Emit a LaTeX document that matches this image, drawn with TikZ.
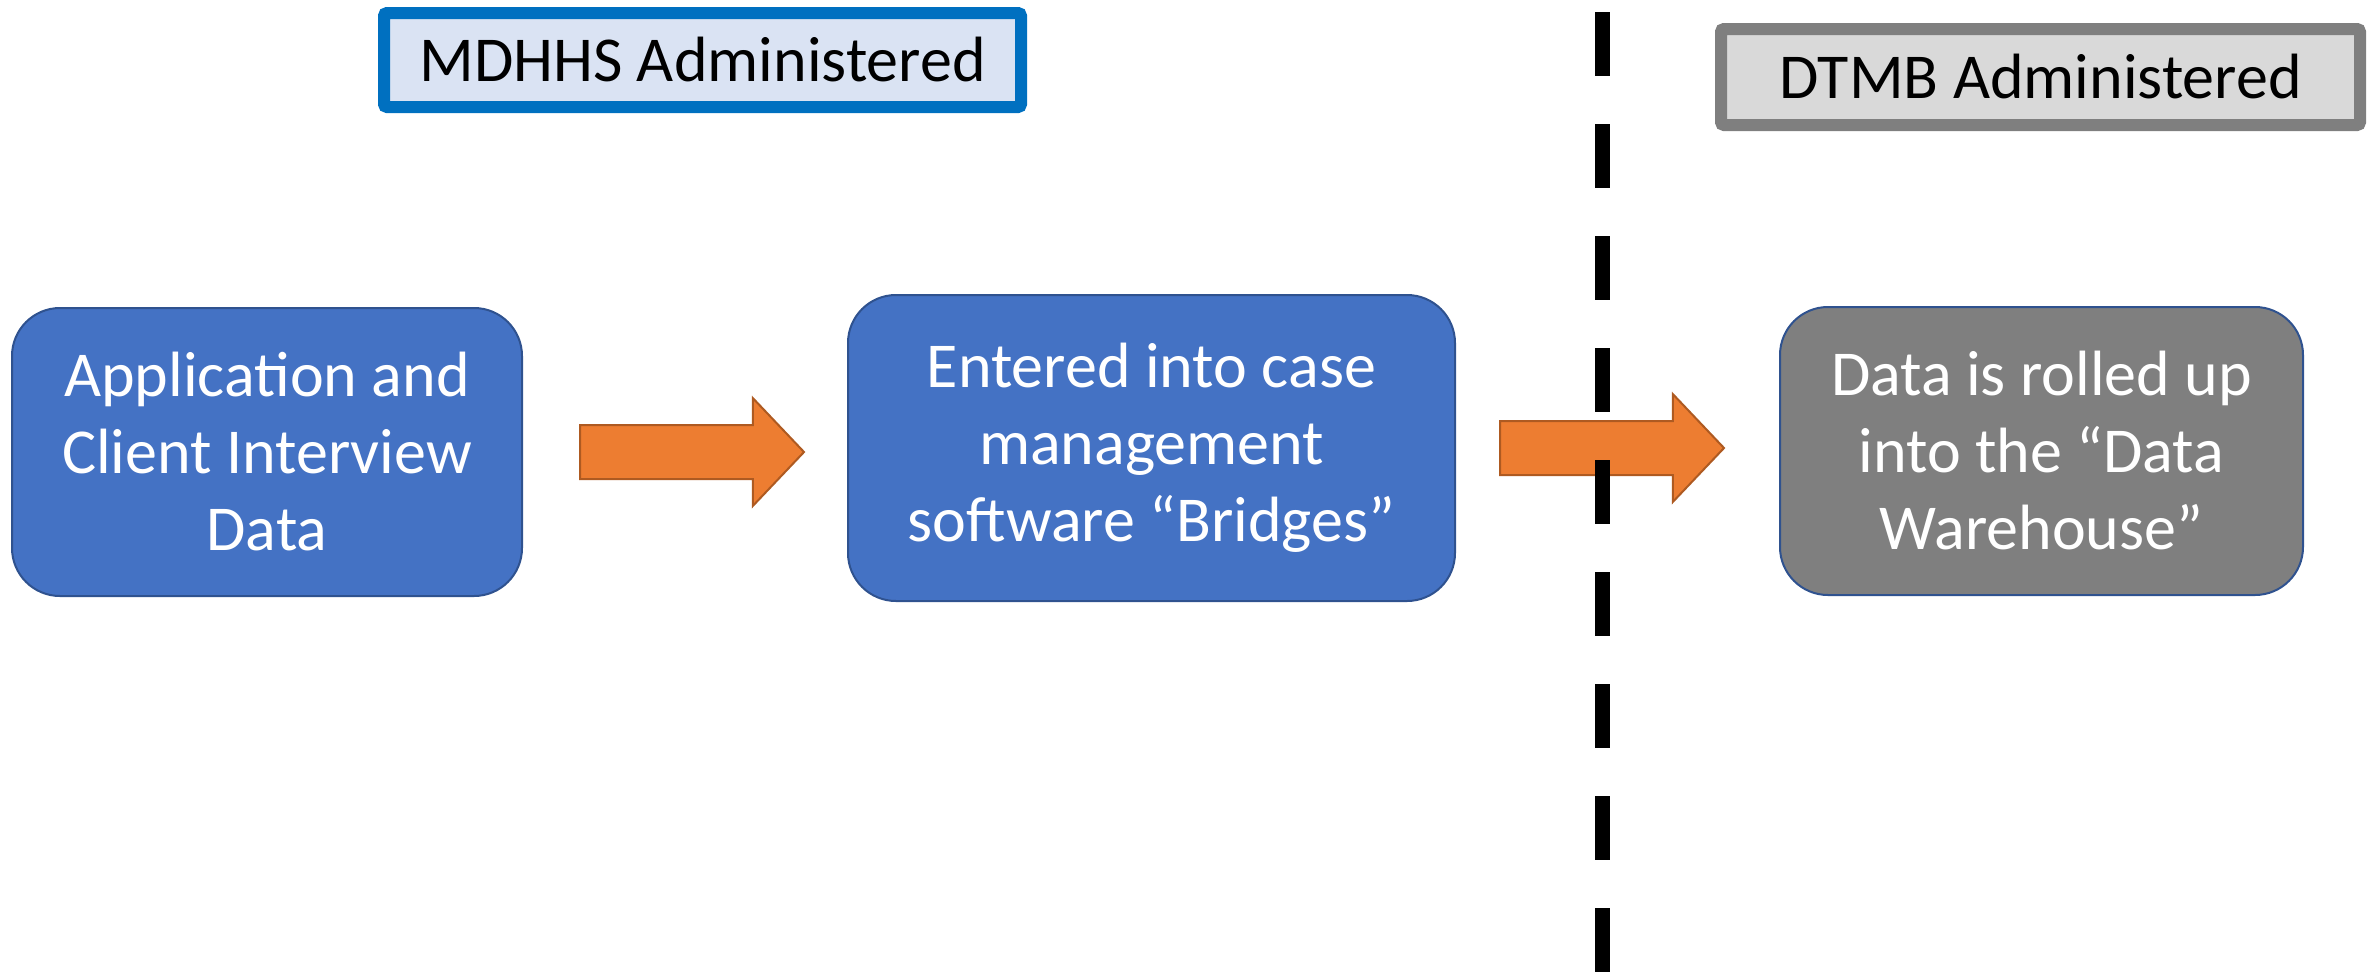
\documentclass[tikz,border=0pt]{standalone}
\usepackage{fontspec}
\setmainfont{Carlito}
\usetikzlibrary{positioning,shapes.arrows}
\definecolor{boxblue}{HTML}{4472C4}
\definecolor{boxedge}{HTML}{2F528F}
\definecolor{boxgray}{HTML}{7F7F7F}
\definecolor{headblue}{HTML}{0070C0}
\definecolor{headfill}{HTML}{DAE3F3}
\definecolor{headgray}{HTML}{D9D9D9}
\definecolor{flow}{HTML}{ED7D31}
\definecolor{flowedge}{HTML}{AE5A21}

\begin{document}
\begin{tikzpicture}[x=0.5pt,y=-0.5pt,
    font=\fontsize{32pt}{38.5pt}\selectfont,
    procbox/.style={draw=boxedge, line width=1pt, rounded corners=24pt, inner sep=0pt, align=center, text=white},
    headbox/.style={line width=6pt, rounded corners=1.5pt, inner sep=0pt, text=black},
    flowarrow/.style={single arrow, draw=flowedge, fill=flow, line width=1pt, inner xsep=0pt, inner ysep=13pt,
        minimum height=112pt, single arrow head extend=13.5pt, single arrow tip angle=93}]

    \useasboundingbox (0,0) rectangle (2374,971);

    % who runs what
    \node[headbox, draw=headblue, fill=headfill, minimum width=318.5pt, minimum height=47pt] (mdhhs) at (702.5,60) {MDHHS Administered};
    \node[headbox, draw=boxgray, fill=headgray, minimum width=319.5pt, minimum height=48pt] (dtmb) at (2040.5,77) {DTMB Administered};

    % data flow
    \node[procbox, fill=boxblue, minimum width=255pt, minimum height=144pt] (app) at (267,452) {Application and\\Client Interview\\Data};
    \node[procbox, fill=boxblue, minimum width=303.5pt, minimum height=153pt] (bridges) at (1151.5,448) {Entered into case\\management\\software “Bridges”};
    \node[procbox, fill=boxgray, minimum width=261.5pt, minimum height=144pt] (warehouse) at (2041.5,451) {Data is rolled up\\into the “Data\\Warehouse”};

    \node[flowarrow, right=28pt of app] (flowA) {};
    \node[flowarrow, right=21.5pt of bridges] (flowB) {};

    % divider
    \coordinate (divtop) at (1602,12);
    \coordinate (divbot) at (1602,985);
    \draw[line width=7.5pt, dash pattern=on 32pt off 24pt] (divtop) -- (divbot);
    %
\end{tikzpicture}
\end{document}
